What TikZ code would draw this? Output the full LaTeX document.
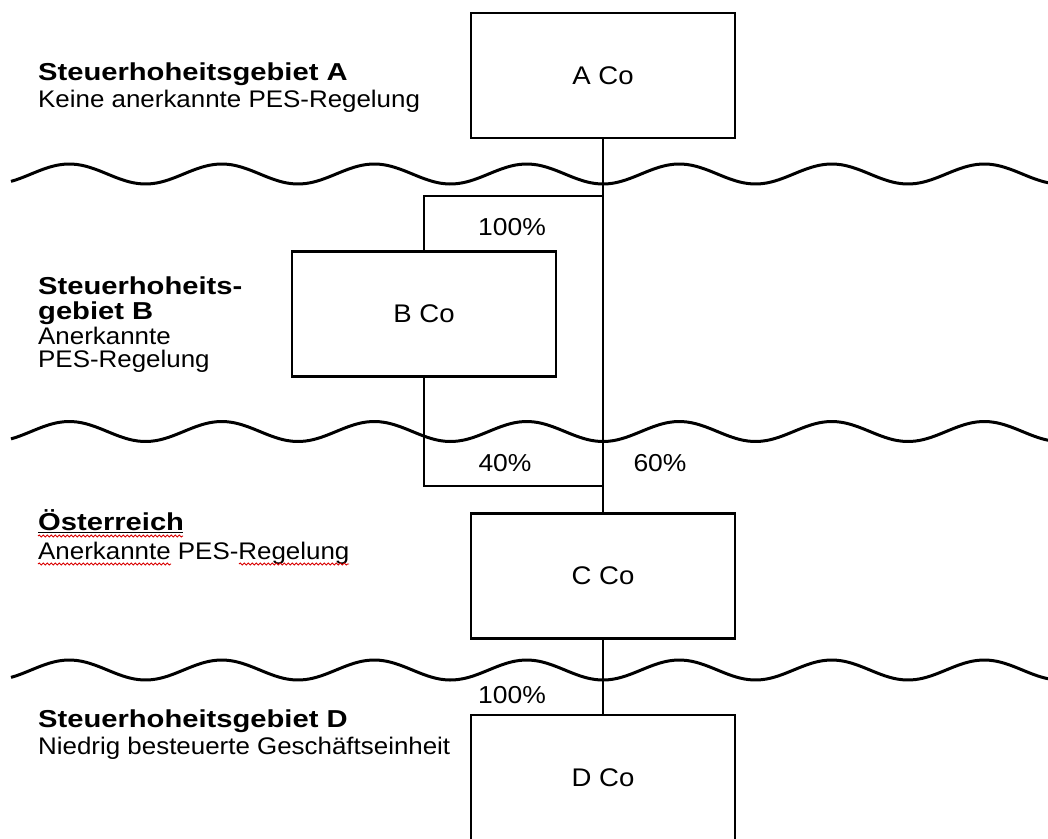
\documentclass[tikz,border=0pt]{standalone}
\usepackage{fontspec}
\setmainfont{Liberation Sans}[FakeStretch=1.08,BoldFeatures={FakeStretch=1.19}]
\usetikzlibrary{decorations.pathmorphing}

\begin{document}
\begin{tikzpicture}[x=1pt,y=-1pt,
    co/.style={draw, line width=2.4pt, minimum width=264pt, minimum height=125pt,
      font=\fontsize{25.5}{30}\selectfont},
    link/.style={line width=1.9pt},
    wave/.style={line width=3pt},
    pct/.style={font=\fontsize{24.5}{28}\selectfont},
    jur/.style={anchor=base west, inner sep=0pt, font=\fontsize{24}{26}\selectfont},
    jurhead/.style={jur, font=\fontsize{24.5}{26}\selectfont\bfseries},
    typo/.style={red!85!black, line width=0.9pt, decorate,
      decoration={snake, segment length=4pt, amplitude=1pt}}]
       \clip (0,0) rectangle (1048,838);

       % companies
       \node[co] (A) at (603,75.5) {A Co};
       \node[co] (B) at (424,314) {B Co};
       \node[co] (C) at (603,576) {C Co};
       \node[co] (D) at (603,777.5) {D Co};

       % borders between the jurisdictions
       \foreach \c in {174,431.5,670}
         \draw[wave] plot[domain=11:1060, samples=240, smooth] (\x,{\c+10*cos(2.3607*(\x-603))});

       \coordinate (j1) at (603,196);
       \coordinate (j2) at (603,486);
       \draw[link] (A.south) -- (C.north);
       \draw[link] (B.north) |- (j1);
       \draw[link] (B.south) |- (j2);
       \draw[link] (C.south) -- (D.north);

       \node[pct] (p1) at (512,227) {100\%};
       \node[pct] (p2) at (505,463) {40\%};
       \node[pct] (p3) at (660,463) {60\%};
       \node[pct] (p4) at (512,695) {100\%};

       % jurisdictions
       \node[jurhead] (LA1) at (38,80) {Steuerhoheitsgebiet A};
       \node[jur] (LA2) at (38,107) {Keine anerkannte PES-Regelung};
       \node[jurhead] (LB1) at (38,294) {Steuerhoheits-};
       \node[jurhead] (LB2) at (38,319) {gebiet B};
       \node[jur] (LB3) at (38,344) {Anerkannte};
       \node[jur] (LB4) at (38,367) {PES-Regelung};
       \node[jurhead] (LC1) at (38,530) {Österreich};
       \node[jur] (LC2) at (38,559) {Anerkannte PES-Regelung};
       \node[jurhead] (LD1) at (38,727) {Steuerhoheitsgebiet D};
       \node[jur] (LD2) at (38,754) {Niedrig besteuerte Geschäftseinheit};

       \draw[line width=1.4pt] (LC1.south west) ++(0,2) -- ++(145,0);
       \draw[typo] (38,536) -- (183,536);
       \draw[typo] (38,564) -- (171,564);
       \draw[typo] (239,564) -- (349,564);
    \end{tikzpicture}
\end{document}
